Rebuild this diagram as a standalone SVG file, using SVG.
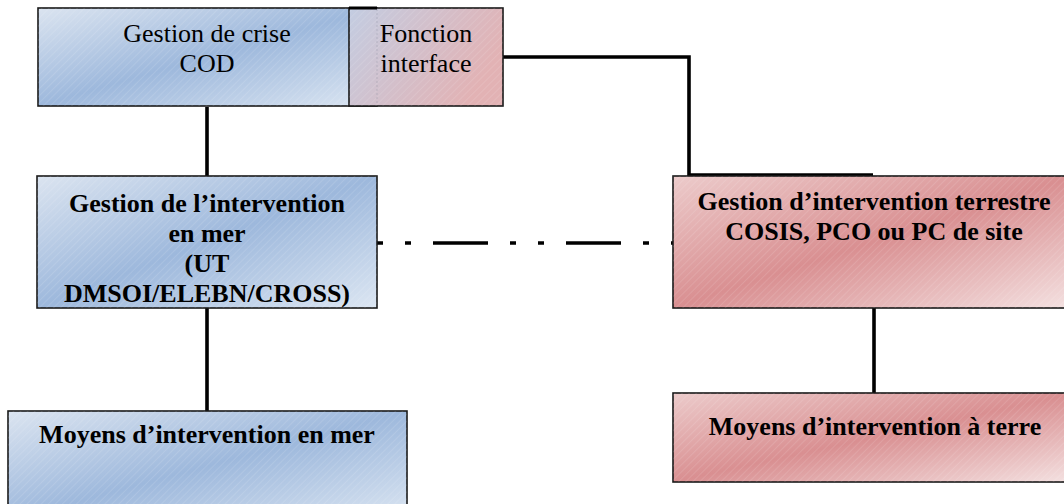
<svg xmlns="http://www.w3.org/2000/svg" width="1064" height="504" viewBox="0 0 1064 504">
  <style>
    .box { stroke: #1a1a1a; stroke-width: 1.6; }
    .sea { fill: url(#seaGrad); }
    .land { fill: url(#landGrad); }
    .hatch { fill: url(#hatch); stroke: none; }
    .reg { font-family: "Liberation Serif", "Times New Roman", serif; font-size: 26px; fill: #000; text-anchor: middle; }
    .bold { font-family: "Liberation Serif", "Times New Roman", serif; font-size: 26px; font-weight: bold; fill: #000; text-anchor: middle; }
    .wire { fill: none; stroke: #000; stroke-width: 3.6; stroke-linecap: butt; }
  </style>
  <defs>
    <linearGradient id="seaGrad" x1="0" y1="0" x2="1" y2="1">
      <stop offset="0" stop-color="#dbe4f0"/>
      <stop offset="0.5" stop-color="#9db8dc"/>
      <stop offset="1" stop-color="#dce6f2"/>
    </linearGradient>
    <linearGradient id="landGrad" x1="0" y1="0" x2="1" y2="1">
      <stop offset="0" stop-color="#eccbcb"/>
      <stop offset="0.5" stop-color="#d98f91"/>
      <stop offset="1" stop-color="#f4e2e2"/>
    </linearGradient>
    <linearGradient id="ifaceGrad" x1="0" y1="0" x2="1" y2="0.4">
      <stop offset="0" stop-color="#c3cde2"/>
      <stop offset="1" stop-color="#e2b2b4"/>
    </linearGradient>
    <pattern id="hatch" width="5" height="5" patternUnits="userSpaceOnUse" patternTransform="rotate(45)">
      <line x1="0" y1="0" x2="0" y2="5" stroke="#ffffff" stroke-width="0.8" stroke-opacity="0.28"/>
    </pattern>
  </defs>

  <!-- connectors -->
  <g id="connectors">
    <path class="wire" d="M207 107 V176"/>
    <path class="wire" d="M207 308 V411"/>
    <path class="wire" d="M874 308 V393"/>
    <path class="wire" d="M503 57 H689 V175 H873"/>
    <path class="wire" d="M377 243 H673" stroke-dasharray="55 22 6 22 6 22" stroke-dashoffset="77"/>
  </g>

  <!-- crisis management (COD) -->
  <g id="node-cod">
    <rect class="box sea" x="38" y="8" width="339" height="98"/>
    <rect class="hatch" x="38" y="8" width="339" height="98"/>
    <text class="reg" x="207" y="42">Gestion de crise</text>
    <text class="reg" x="207" y="72">COD</text>
  </g>

  <!-- interface function -->
  <g id="node-interface">
    <rect class="box" x="349" y="8" width="154" height="98" fill="url(#ifaceGrad)"/>
    <rect class="hatch" x="349" y="8" width="154" height="98"/>
    <line x1="377" y1="9" x2="377" y2="105" stroke="#8a8fa0" stroke-width="0.6" stroke-dasharray="2 2" opacity="0.6"/>
    <line x1="349" y1="8" x2="377" y2="8" stroke="#000" stroke-width="3"/>
    <text class="reg" x="426" y="42">Fonction</text>
    <text class="reg" x="426" y="72">interface</text>
  </g>

  <!-- sea intervention management -->
  <g id="node-sea-mgmt">
    <rect class="box sea" x="37" y="176" width="340" height="132"/>
    <rect class="hatch" x="37" y="176" width="340" height="132"/>
    <text class="bold" x="207" y="212">Gestion de l’intervention</text>
    <text class="bold" x="207" y="242">en mer</text>
    <text class="bold" x="207" y="272">(UT</text>
    <text class="bold" x="207" y="302">DMSOI/ELEBN/CROSS)</text>
  </g>

  <!-- land intervention management -->
  <g id="node-land-mgmt">
    <rect class="box land" x="673" y="176" width="402" height="132"/>
    <rect class="hatch" x="673" y="176" width="402" height="132"/>
    <text class="bold" x="874" y="210">Gestion d’intervention terrestre</text>
    <text class="bold" x="874" y="240">COSIS, PCO ou PC de site</text>
  </g>

  <!-- sea resources -->
  <g id="node-sea-means">
    <rect class="box sea" x="8" y="411" width="399" height="110"/>
    <rect class="hatch" x="8" y="411" width="399" height="110"/>
    <text class="bold" x="207" y="443">Moyens d’intervention en mer</text>
  </g>

  <!-- land resources -->
  <g id="node-land-means">
    <rect class="box land" x="673" y="393" width="402" height="89"/>
    <rect class="hatch" x="673" y="393" width="402" height="89"/>
    <text class="bold" x="875" y="435">Moyens d’intervention à terre</text>
  </g>
</svg>
